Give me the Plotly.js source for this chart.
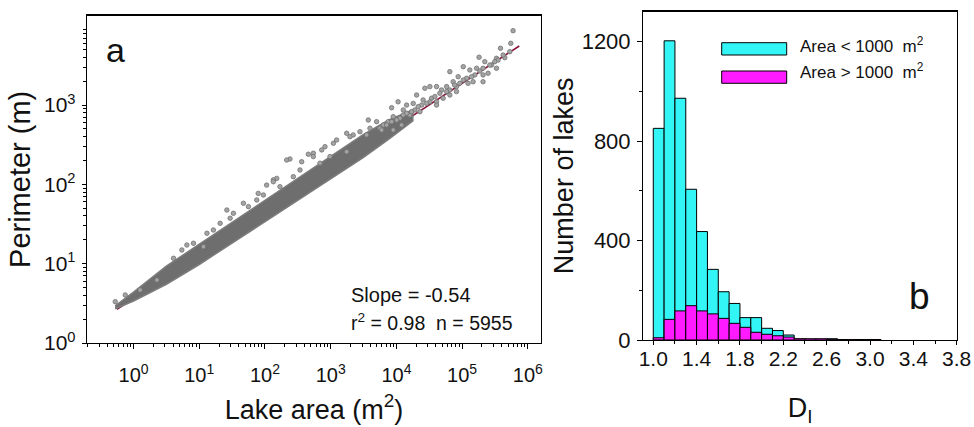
<!DOCTYPE html>
<html>
<head>
<meta charset="utf-8">
<script src="https://cdn.plot.ly/plotly-3.0.1.min.js"></script>
<style>html,body{margin:0;padding:0;background:#fff;}#chart{width:974px;height:427px;}</style>
</head>
<body>
<div id="chart"></div>
<script>
// ---------- Panel a: lake area vs perimeter (log-log) ----------
// dense core of the point cloud: outline (upper edge then lower edge)
const coreArea  = [0.525, 1, 3.16, 10, 31.6, 100, 316, 1000, 3160, 7940, 17800,
                   17800, 7940, 3160, 1000, 316, 100, 31.6, 10, 3.16, 1, 0.525];
const corePerim = [2.95, 4.37, 9.33, 17.4, 33.1, 63.1, 120, 229, 427, 661, 871,
                   631, 380, 219, 117, 63.1, 33.9, 18.2, 9.77, 5.5, 3.39, 2.69];
// individually visible lakes (outliers / sparse large lakes)
const lakeArea = [5.96e5, 5.5e5, 3.83e5, 4.46e5, 3.33e5, 1.81e5, 2.21e5, 2.48e5, 1.66e5, 1.31e5,
                  1.04e5, 8.7e4, 6.5e4, 7.3e4, 5.8e4, 4.86e4, 4.08e4, 3.23e4, 2.71e4, 3.43e4,
                  2.55e4, 2.03e4, 1.8e4, 1.43e4, 1.27e4, 1.06e4, 8450, 8940, 7500, 6300,
                  5610, 5000, 3730, 3960, 3520, 2790, 2200, 1960, 1750, 1230,
                  1100, 819, 730, 544, 457, 362, 240, 151, 134, 106,
                  79, 8.2e4, 1.17e5, 1.47e5, 5.14e4, 2.28e4, 1.6e4, 1.2e4, 8940, 4.08e4,
                  6.5e4, 2.08e5, 2.8e5,
                  0.527, 0.748, 1.26, 2.27, 4.06, 5.44, 8.17, 13.1, 20.8, 33.1,
                  47, 94.6, 134, 214, 341, 544, 11.6, 26.3,
                  5.31e5, 4.2e5, 3.52e5, 3.14e5, 2.64e5, 2.08e5, 1.86e5, 1.56e5, 1.39e5, 1.23e5,
                  1.04e5, 9.2e4, 7.7e4, 6.5e4, 5.8e4, 4.58e4, 3.85e4, 3.23e4, 2.88e4, 2.42e4,
                  2.14e4, 1.91e4, 1.7e4, 1.43e4, 1.27e4, 1.13e4, 1.01e4, 8450, 7100, 5960,
                  4.08e4, 8.2e4, 2.08e5, 3.33e5,
                  6.48, 16.4, 29.5, 56, 75, 169, 270, 687, 975, 1750];
const lakePerim = [8670, 6010, 5200, 3960, 3890, 4010, 3530, 2520, 2910, 2770,
                   3050, 2280, 2640, 1970, 1710, 1550, 1710, 1710, 1630, 1220,
                   1160, 1340, 1050, 1000, 750, 1100, 927, 714, 618, 561,
                   510, 618, 649, 510, 420, 462, 420, 400, 441, 363,
                   330, 299, 272, 247, 240, 193, 209, 119, 114, 98,
                   77, 1710, 2180, 1970, 1220, 826, 750, 561, 485, 1100,
                   1340, 2400, 3200,
                   3.32, 4.03, 4.66, 6.23, 11.7, 14.9, 18.1, 24.2, 32.3, 43.2,
                   57.8, 73.5, 108, 203, 152, 224, 16.4, 47.5,
                   4720, 4280, 3700, 3530, 3200, 2910, 2690, 2400, 2280, 1880,
                   2070, 1880, 1790, 1550, 1480, 1410, 1280, 1100, 1050, 1000,
                   955, 867, 826, 789, 867, 682, 649, 618, 561, 485,
                   1000, 1480, 1970, 2910,
                   17.2, 26.6, 37.4, 52.4, 63.6, 93.5, 125, 185, 224, 258];
// regression line end points
const fitArea  = [0.56, 7.4e5];
const fitPerim = [2.66, 5560];
const logTickVals = [1, 10, 100, 1000, 10000, 100000, 1000000];
const xTickText = ['10<sup>0</sup>', '10<sup>1</sup>', '10<sup>2</sup>', '10<sup>3</sup>', '10<sup>4</sup>', '10<sup>5</sup>', '10<sup>6</sup>'];
const yTickVals = [1, 10, 100, 1000];
const yTickText = ['10<sup>0</sup>', '10<sup>1</sup>', '10<sup>2</sup>', '10<sup>3</sup>'];

// ---------- Panel b: histogram of D_L ----------
const binCenters = [1.05, 1.15, 1.25, 1.35, 1.45, 1.55, 1.65, 1.75, 1.85, 1.95, 2.05,
                    2.15, 2.25, 2.35, 2.45, 2.55, 2.65, 2.75, 2.85, 2.95, 3.05];
const smallLakes = [851, 1203, 972, 606, 436, 284, 194, 147, 90, 90, 47,
                    38, 20, 4, 3, 3, 5, 2, 2, 2, 2];
const largeLakes = [9, 83, 117, 138, 117, 105, 87, 67, 51, 31, 23,
                    17, 12, 5, 5, 5, 3, 1, 1, 1, 1];
const legendLabels = ['Area < 1000  m<sup>2</sup>', 'Area > 1000  m<sup>2</sup>'];

// minor tick positions for log axes (2..9 in each decade)
function logMinor(lo, hi) {
  const v = [];
  for (let d = lo; d <= hi; d++) for (let k = 2; k <= 9; k++) v.push(k * Math.pow(10, d));
  return v;
}

const FONT = 'Liberation Sans, Arial, sans-serif';
const W = 974, H = 427;
const px = x => x / W;
const py = y => (H - y) / H;

const traces = [
  {x: fitArea, y: fitPerim, xaxis: 'x', yaxis: 'y', mode: 'lines', type: 'scatter',
   line: {color: '#8a1538', width: 1.6}, hoverinfo: 'skip', showlegend: false},
  {x: coreArea, y: corePerim, xaxis: 'x', yaxis: 'y', mode: 'lines', type: 'scatter',
   fill: 'toself', fillcolor: '#6e6e6e', line: {color: '#7c7c7c', width: 1.5},
   hoverinfo: 'skip', showlegend: false},
  {x: lakeArea, y: lakePerim, xaxis: 'x', yaxis: 'y', mode: 'markers', type: 'scatter',
   marker: {size: 4.5, color: '#a4a4a4', line: {color: '#727272', width: 0.8}},
   showlegend: false},
  {x: binCenters, y: smallLakes, xaxis: 'x2', yaxis: 'y2', type: 'bar', width: 0.1,
   name: 'Area < 1000 m²', marker: {color: '#33f5f5', line: {color: '#000', width: 1}}, showlegend: false},
  {x: binCenters, y: largeLakes, xaxis: 'x2', yaxis: 'y2', type: 'bar', width: 0.1,
   name: 'Area > 1000 m²', marker: {color: '#ff1aff', line: {color: '#000', width: 1}}, showlegend: false}
];

const axisCommon = {
  showgrid: false, zeroline: false, showline: true, linecolor: '#000', linewidth: 1.3,
  mirror: true, ticks: 'outside', tickcolor: '#000', ticklen: 5, tickwidth: 1,
  automargin: false, color: '#111'
};

const layout = {
  width: W, height: H,
  margin: {l: 0, r: 0, t: 0, b: 0},
  paper_bgcolor: '#fff', plot_bgcolor: '#fff',
  font: {family: FONT, color: '#111'},
  barmode: 'overlay', bargap: 0,
  showlegend: false,
  xaxis: Object.assign({}, axisCommon, {
    type: 'log', range: [-0.708, 6.2], domain: [px(87), px(541)], anchor: 'y',
    tickmode: 'array', tickvals: logTickVals, ticktext: xTickText,
    tickfont: {size: 20}, ticklabelstandoff: 9,
    minor: {tickmode: 'array', tickvals: logMinor(-1, 6), ticks: 'outside', ticklen: 3, tickcolor: '#000'},
    title: {text: 'Lake area (m<sup>2</sup>)', font: {size: 27}, standoff: 14}
  }),
  yaxis: Object.assign({}, axisCommon, {
    type: 'log', range: [0, 4.127], domain: [py(343), py(15.7)], anchor: 'x',
    tickmode: 'array', tickvals: yTickVals, ticktext: yTickText,
    tickfont: {size: 21}, ticklen: 4, ticklabelstandoff: 2,
    minor: {tickmode: 'array', tickvals: logMinor(0, 3), ticks: 'outside', ticklen: 2.5, tickcolor: '#000'},
    title: {text: 'Perimeter (m)', font: {size: 29}, standoff: 4}
  }),
  xaxis2: Object.assign({}, axisCommon, {
    range: [0.908, 3.8], domain: [px(643.3), px(956.7)], anchor: 'y2',
    tickmode: 'linear', tick0: 1.0, dtick: 0.4, tickformat: '.1f',
    tickfont: {size: 21}, ticklen: 4, ticklabelstandoff: -5,
    minor: {dtick: 0.2, ticks: 'outside', ticklen: 3, tickcolor: '#000'},
    title: {text: 'D<sub>I</sub>', font: {size: 27}, standoff: 40}
  }),
  yaxis2: Object.assign({}, axisCommon, {
    range: [0, 1320], domain: [py(340), py(11.7)], anchor: 'x2',
    tickmode: 'linear', tick0: 0, dtick: 400,
    tickfont: {size: 22}, ticklabelstandoff: 2,
    minor: {dtick: 200, ticks: 'outside', ticklen: 3, tickcolor: '#000'},
    title: {text: 'Number of lakes', font: {size: 27}, standoff: 0}
  }),
  shapes: [
    {type: 'rect', xref: 'paper', yref: 'paper', x0: px(721.7), x1: px(786.7), y0: py(55), y1: py(42.7),
     fillcolor: '#33f5f5', line: {color: '#000', width: 1}},
    {type: 'rect', xref: 'paper', yref: 'paper', x0: px(721.7), x1: px(786.7), y0: py(83.3), y1: py(71),
     fillcolor: '#ff1aff', line: {color: '#000', width: 1}}
  ],
  annotations: [
    {xref: 'paper', yref: 'paper', x: px(104), y: py(50), xanchor: 'left', yanchor: 'middle',
     text: 'a', showarrow: false, font: {size: 34, color: '#111'}},
    {xref: 'paper', yref: 'paper', x: px(907), y: py(296), xanchor: 'left', yanchor: 'middle',
     text: 'b', showarrow: false, font: {size: 37, color: '#111'}},
    {xref: 'paper', yref: 'paper', x: px(349), y: py(295), xanchor: 'left', yanchor: 'middle',
     text: 'Slope = -0.54', showarrow: false, font: {size: 20, color: '#111'}},
    {xref: 'paper', yref: 'paper', x: px(349), y: py(322), xanchor: 'left', yanchor: 'middle',
     text: 'r<sup>2</sup> = 0.98  n = 5955', showarrow: false, font: {size: 19.5, color: '#111'}},
    {xref: 'paper', yref: 'paper', x: px(798), y: py(45), xanchor: 'left', yanchor: 'middle',
     text: legendLabels[0], showarrow: false, font: {size: 17, color: '#111'}},
    {xref: 'paper', yref: 'paper', x: px(798), y: py(71), xanchor: 'left', yanchor: 'middle',
     text: legendLabels[1], showarrow: false, font: {size: 17, color: '#111'}}
  ]
};

Plotly.newPlot('chart', traces, layout, {staticPlot: true, displayModeBar: false});
</script>
</body>
</html>
